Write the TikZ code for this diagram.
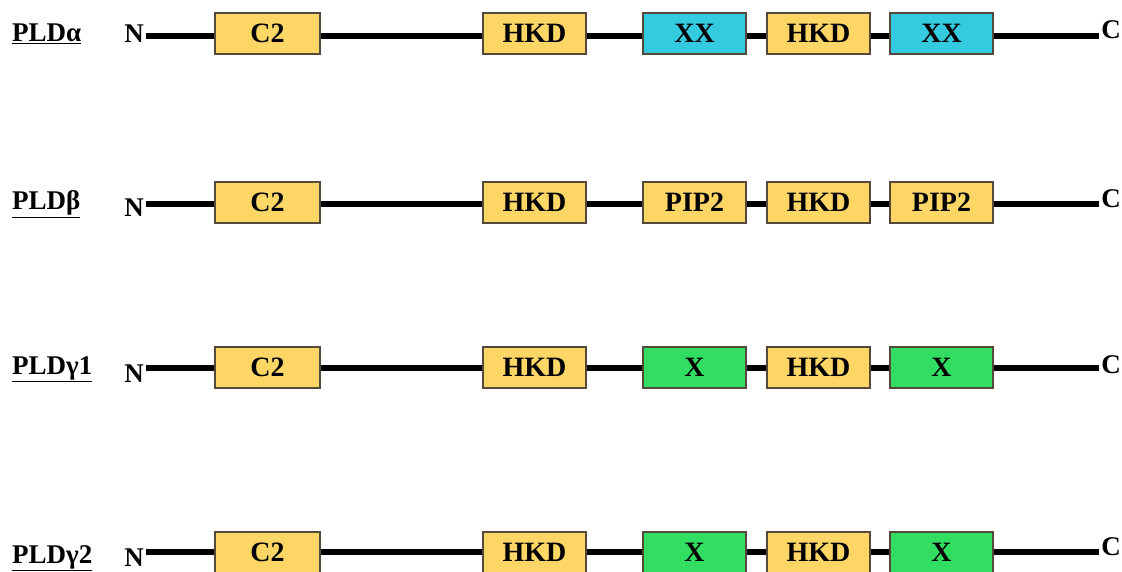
\documentclass[tikz,border=0pt]{standalone}
\usepackage{fontspec}
\setmainfont{Liberation Serif}
\usetikzlibrary{backgrounds}
\definecolor{hkdyellow}{RGB}{253,214,102}
\definecolor{xxcyan}{RGB}{52,202,224}
\definecolor{xgreen}{RGB}{50,222,98}
\definecolor{boxedge}{RGB}{85,72,60}
\tikzset{
  dombox/.style={draw=boxedge, line width=1.2pt, minimum width=103pt,
    minimum height=41pt, inner sep=0pt, text=black,
    font=\fontsize{28}{32}\selectfont\bfseries},
  yel/.style={dombox, fill=hkdyellow},
  cya/.style={dombox, fill=xxcyan},
  grn/.style={dombox, fill=xgreen},
  backbone/.style={line width=6pt, black},
  terminus/.style={anchor=base, inner sep=0pt, font=\fontsize{27}{31}\selectfont\bfseries},
  rowlabel/.style={anchor=base west, inner sep=0pt, font=\fontsize{27}{31}\selectfont\bfseries}
}
\begin{document}
\begin{tikzpicture}[x=1pt,y=-1pt]
\useasboundingbox (0,0) rectangle (1122,572);

% one protein per row: name, line height, box height, label/N/C baselines,
% style and text of the two repeated domains
\foreach \r/\ly/\by/\lb/\nb/\cb/\lab/\dst/\dtx in {
  a/36/33.5/42/43/39/{PLDα}/cya/XX,
  b/204/202.5/210/217/208/{PLDβ}/yel/PIP2,
  c/368/367.5/374/382/373/{PLDγ1}/grn/X,
  d/552/552.5/563/566/555/{PLDγ2}/grn/X}{
  \node[rowlabel] (\r-lab) at (12,\lb) {\underline{\lab}};
  \node[terminus] (\r-n) at (134,\nb) {N};
  \node[terminus] (\r-c) at (1111,\cb) {C};
  \coordinate (\r-line) at (0,\ly);
  \node[yel] (\r-c2) at (267.5,\by) [minimum width=105pt] {C2};
  \node[yel] (\r-h1) at (534.5,\by) {HKD};
  \node[\dst] (\r-d1) at (694.5,\by) {\dtx};
  \node[yel] (\r-h2) at (818.5,\by) {HKD};
  \node[\dst] (\r-d2) at (941.5,\by) {\dtx};
  \begin{scope}[on background layer]
    \draw[backbone] ([xshift=2pt]\r-n.east |- \r-line) -- ([xshift=3pt]\r-c2.west |- \r-line);
    \foreach \p/\q in {c2/h1, h1/d1, d1/h2, h2/d2}
      \draw[backbone] ([xshift=-3pt]\r-\p.east |- \r-line) -- ([xshift=3pt]\r-\q.west |- \r-line);
    \draw[backbone] ([xshift=-3pt]\r-d2.east |- \r-line) -- ([xshift=-2pt]\r-c.west |- \r-line);
  \end{scope}
}
\end{tikzpicture}
\end{document}
